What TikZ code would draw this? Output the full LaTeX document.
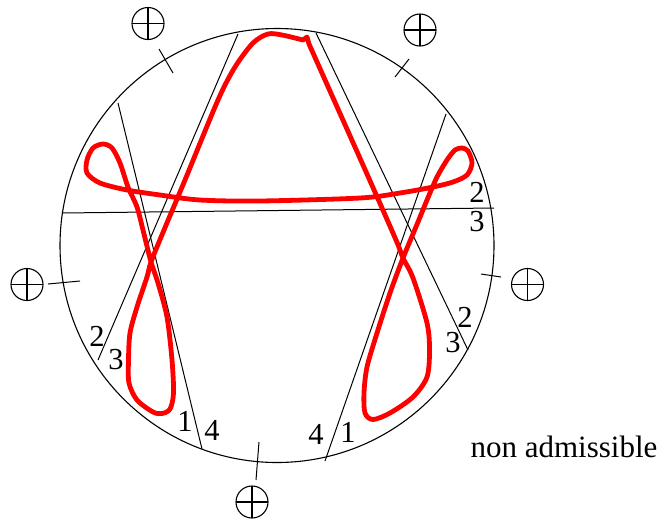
\documentclass[tikz,border=0pt]{standalone}
\usepackage{fontspec}
\setmainfont{Liberation Serif}
\begin{document}
\begin{tikzpicture}[x=1pt,y=-1pt,
  chord/.style={line width=1pt},
  rim/.style={line width=1.1pt},
  tick/.style={line width=1pt},
  knot/.style={red, line width=4.8pt, line join=round, line cap=round},
  oplus/.style={circle, draw, line width=1.1pt, minimum size=32pt, inner sep=0pt,
    path picture={\draw[line width=1.1pt] (path picture bounding box.north) -- (path picture bounding box.south)
      (path picture bounding box.west) -- (path picture bounding box.east);}},
  lbl/.style={inner sep=0pt, font=\fontsize{30.5}{36}\selectfont}]
\useasboundingbox (0,0) rectangle (666,523);
% rim
\coordinate (O) at (277,245.5);
\draw[rim] (O) circle[radius=217pt];
% chords
\coordinate (h1) at (62,213);   \coordinate (h2) at (494,208);
\coordinate (a1) at (118,103);  \coordinate (a2) at (202,449);
\coordinate (b1) at (238,34);   \coordinate (b2) at (98,360);
\coordinate (c1) at (316,33);   \coordinate (c2) at (468,350);
\coordinate (d1) at (446,114);  \coordinate (d2) at (325,461);
\draw[chord] (h1) -- (h2);
\draw[chord] (a1) -- (a2);
\draw[chord] (b1) -- (b2);
\draw[chord] (c1) -- (c2);
\draw[chord] (d1) -- (d2);
% ticks
\coordinate (t1a) at (159,49);  \coordinate (t1b) at (173,73);
\coordinate (t2a) at (395,77);  \coordinate (t2b) at (409,59);
\coordinate (t3a) at (48,284);  \coordinate (t3b) at (80,281);
\coordinate (t4a) at (259,442); \coordinate (t4b) at (256,480);
\coordinate (t5a) at (481,274); \coordinate (t5b) at (501,277);
\draw[tick] (t1a) -- (t1b);
\draw[tick] (t2a) -- (t2b);
\draw[tick] (t3a) -- (t3b);
\draw[tick] (t4a) -- (t4b);
\draw[tick] (t5a) -- (t5b);
% plus signs
\node[oplus] (p1) at (148,23.5) {};
\node[oplus] (p2) at (420,30) {};
\node[oplus] (p3) at (27,284.5) {};
\node[oplus] (p4) at (252,502) {};
\node[oplus] (p5) at (527.5,284.5) {};
% labels
\node[lbl] (lh2) at (477,192) {2};
\node[lbl] (lh3) at (477,222) {3};
\node[lbl] (lb2) at (97,336) {2};
\node[lbl] (lb3) at (116,360) {3};
\node[lbl] (la1) at (185,421) {1};
\node[lbl] (la4) at (212,430) {4};
\node[lbl] (ld4) at (316,434) {4};
\node[lbl] (ld1) at (348,432) {1};
\node[lbl] (lc2) at (465,317) {2};
\node[lbl] (lc3) at (453,343) {3};
\node[lbl, font=\fontsize{31}{36}\selectfont] (na) at (564,447) {non admissible};
% red curve
\draw[knot] plot[smooth, tension=0.5] coordinates {
 (309,44) (338,109) (367,174) (396,240) (403,258) (413,278) (427,323) (429.5,350)
 (427,377) (413,397) (390,413) (373,419.5) (365,413) (364,393) (367,367) (377,333)
 (390,293) (403,258) (418,222) (427,200) (437,177) (447,160) (455,150) (462,148)
 (468,151) (472,163) (467,175) (453,182) (433,187) (400,193) (360,198) (260,201)
 (200,200) (160,195) (127,190) (100,183) (87,173) (87,160) (93,148) (103,144)
 (112,148) (120,163) (128,187) (137,207) (143,230) (151,262) (158,283) (167,317)
 (172,360) (173.5,393) (170,409) (162,413.5) (153,412) (137,400) (129,383) (128.5,360)
 (130,333) (137,307) (147,277) (151,262) (164,230) (185,180) (218,100) (235,67)
 (253,43) (268,34) (282,35) (303,40)}
 -- (307,37) -- (309,44);
\end{tikzpicture}
\end{document}
